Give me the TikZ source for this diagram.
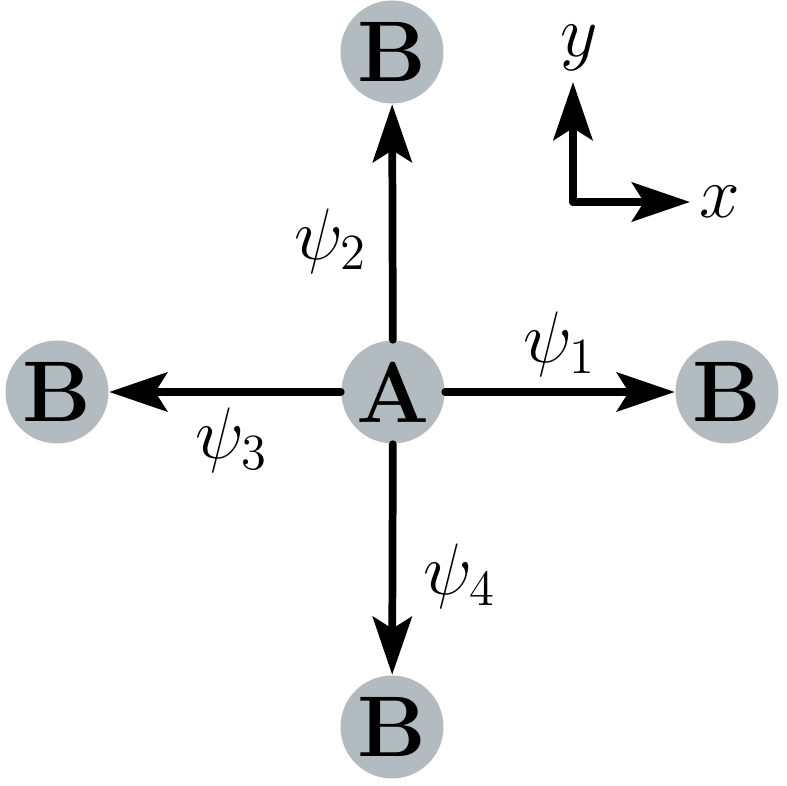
\documentclass[tikz,border=0pt]{standalone}
\usepackage{amsmath,amssymb}
\usepackage{tikz}
\usetikzlibrary{arrows.meta}
\definecolor{sitegray}{RGB}{178,187,191}

\begin{document}
\begin{tikzpicture}[
	site/.style={circle,fill=sitegray,minimum size=10.3mm,inner sep=0pt,font=\fontsize{24.5}{28}\selectfont\bfseries},
	lbl/.style={font=\fontsize{21.5}{25}\selectfont},
	hop/.style={line width=2.2pt,line cap=round,line join=round,-{Stealth[length=5.8mm,width=3.9mm,inset=1.2mm]}}
]
	\useasboundingbox (0,0) rectangle (7.87,7.86);
	% lattice sites
	\draw (3.93,3.94) node[site] (A)  {A};
	\draw (7.27,3.94) node[site] (B1) {B};
	\draw (3.92,7.34) node[site] (B2) {B};
	\draw (0.57,3.94) node[site] (B3) {B};
	\draw (3.92,0.59) node[site] (B4) {B};
	% hoppings
	\draw[hop] (A) edge node[lbl,above,pos=0.5] {$\psi_1$} (B1);
	\draw[hop] (A) edge node[lbl,left,pos=0.42,xshift=-1mm] {$\psi_2$} (B2);
	\draw[hop] (A) edge node[lbl,below,pos=0.47] {$\psi_3$} (B3);
	\draw[hop] (A) edge node[lbl,right,pos=0.575,xshift=1.5mm] {$\psi_4$} (B4);
	% axes
	\coordinate (O) at (5.73,5.84);
	\coordinate (ex) at (6.90,5.84);
	\coordinate (ey) at (5.73,7.04);
	\node[lbl,anchor=west,inner sep=1pt] (xl) at (6.95,5.84) {$x$};
	\node[lbl,anchor=south,inner sep=0pt] (yl) at (5.79,7.15) {$y$};
	\draw[hop] (O) -- (ex);
	\draw[hop] (O) -- (ey);
\end{tikzpicture}
\end{document}
